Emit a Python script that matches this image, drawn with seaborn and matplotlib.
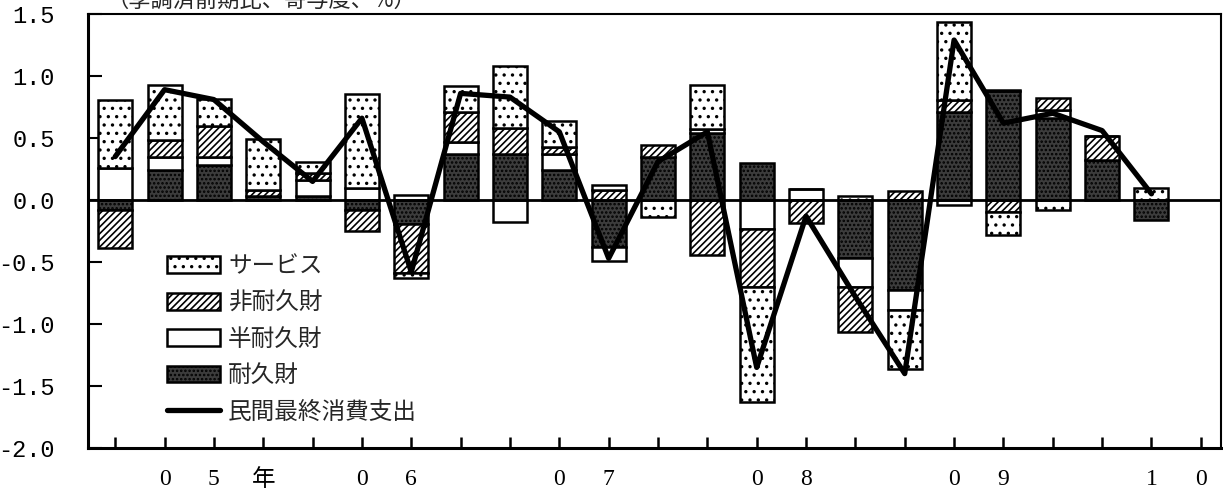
import numpy as np
import pandas as pd
import seaborn as sns
import matplotlib.pyplot as plt
from matplotlib.patches import Patch
from matplotlib.lines import Line2D

# quarters 2005Q1 - 2010Q2 (contribution to q/q change, %)
quarters = ['05Q1', '05Q2', '05Q3', '05Q4', '06Q1', '06Q2', '06Q3', '06Q4',
            '07Q1', '07Q2', '07Q3', '07Q4', '08Q1', '08Q2', '08Q3', '08Q4',
            '09Q1', '09Q2', '09Q3', '09Q4', '10Q1', '10Q2']
durable = [-0.08, 0.24, 0.28, 0.03, 0.03, -0.08, -0.19, 0.37, 0.37, 0.24, -0.375,
           0.35, 0.54, 0.30, 0.0, -0.47, -0.725, 0.71, 0.88, 0.66, 0.32, -0.16]
semi_durable = [0.26, 0.11, 0.07, 0.0, 0.13, 0.095, 0.04, 0.10, -0.175, 0.135, -0.12,
                0.0, 0.03, -0.23, 0.085, -0.23, -0.16, -0.04, 0.01, 0.07, 0.0, 0.0]
non_durable = [-0.31, 0.135, 0.25, 0.05, 0.055, -0.17, -0.40, 0.24, 0.21, 0.055, 0.08,
               0.095, -0.44, -0.475, -0.185, -0.365, 0.075, 0.095, -0.095, 0.09, 0.20, 0.0]
services = [0.55, 0.44, 0.215, 0.41, 0.09, 0.76, -0.04, 0.21, 0.50, 0.21, 0.04,
            -0.135, 0.36, -0.92, 0.0, 0.03, -0.48, 0.63, -0.19, -0.08, 0.0, 0.10]
total = [0.35, 0.89, 0.81, 0.47, 0.15, 0.66, -0.58, 0.86, 0.83, 0.55, -0.47,
         0.31, 0.55, -1.35, -0.13, -0.78, -1.40, 1.29, 0.62, 0.70, 0.56, 0.05]

# x tick characters (one per quarter tick, 23 ticks)
tick_chars = ['', '0', '5', '年', '', '0', '6', '', '', '0', '7', '', '',
              '0', '8', '', '', '0', '9', '', '', '1', '0']
tall_ticks = [0, 3, 4, 7, 8, 11, 12, 15, 16, 19, 20]
yticks = [1.5, 1.0, 0.5, 0.0, -0.5, -1.0, -1.5, -2.0]

sns.set_theme(style='white')
plt.rcParams['font.family'] = ['Noto Sans CJK JP', 'DejaVu Sans']
plt.rcParams['hatch.linewidth'] = 1.2

df = pd.DataFrame({'q': quarters, '耐久財': durable, '半耐久財': semi_durable,
                   '非耐久財': non_durable, 'サービス': services, 'total': total})
df['x'] = np.arange(len(df))

styles = {
    '耐久財': dict(facecolor='#3c3c3c', hatch='....'),
    '半耐久財': dict(facecolor='white', hatch=None),
    '非耐久財': dict(facecolor='white', hatch='/////'),
    'サービス': dict(facecolor='white', hatch='..'),
}

fig = plt.figure(figsize=(12.23, 4.92), dpi=100)
ax = fig.add_axes([0.072, 0.0894, 0.9264, 0.8821])

pos_bottom = np.zeros(len(df))
neg_bottom = np.zeros(len(df))
for col in ['耐久財', '半耐久財', '非耐久財', 'サービス']:
    v = df[col].values
    bottom = np.where(v >= 0, pos_bottom, neg_bottom)
    ax.bar(df['x'], v, bottom=bottom, width=0.69, edgecolor='black',
           linewidth=1.8, zorder=2, **styles[col])
    pos_bottom += np.clip(v, 0, None)
    neg_bottom += np.clip(v, None, 0)

ax.axhline(0, color='black', lw=2, zorder=3)
sns.lineplot(x='x', y='total', data=df, ax=ax, color='black', lw=3.8, zorder=4)

ax.set_xlim(-0.55, 22.41)
ax.set_ylim(-2.0, 1.5)
ax.set_yticks(yticks)
ax.set_yticklabels([f'{t:.1f}' for t in yticks], family='Liberation Mono', fontsize=17)
ax.set_xticks(range(23))
ax.set_xticklabels(tick_chars, family=['Liberation Serif', 'Noto Sans CJK JP'], fontsize=17)
ax.set_xticks(tall_ticks, minor=True)
ax.tick_params(axis='x', which='major', direction='in', length=8, width=1.8, pad=15,
               bottom=True, colors='black')
ax.tick_params(axis='x', which='minor', direction='in', length=14, width=3.5, bottom=True)
ax.tick_params(axis='y', which='major', direction='in', length=10, width=1.5, left=True,
               pad=24, colors='black')
ax.set_xlabel('')
ax.set_ylabel('')
for side in ['left', 'bottom', 'top', 'right']:
    ax.spines[side].set_color('black')
ax.spines['left'].set_linewidth(2.2)
ax.spines['bottom'].set_linewidth(2.2)
ax.spines['top'].set_linewidth(1.5)
ax.spines['right'].set_linewidth(1.5)

handles = [Patch(edgecolor='black', linewidth=1.8, **styles['サービス']),
           Patch(edgecolor='black', linewidth=1.8, **styles['非耐久財']),
           Patch(edgecolor='black', linewidth=1.8, **styles['半耐久財']),
           Patch(edgecolor='black', linewidth=1.8, **styles['耐久財']),
           Line2D([0], [0], color='black', lw=3.8)]
labels = ['サービス', '非耐久財', '半耐久財', '耐久財', '民間最終消費支出']
ax.legend(handles, labels, loc='upper left', bbox_to_anchor=(0.0697, 0.445),
          frameon=False, fontsize=17, handlelength=2.25, handleheight=0.72,
          handletextpad=0.34, labelspacing=0.57, borderaxespad=0, borderpad=0)

fig.text(0.087, 1.0, '（季調済前期比、寄与度、%）', fontsize=16, va='center', ha='left')

fig.savefig('out.png', dpi=100)
